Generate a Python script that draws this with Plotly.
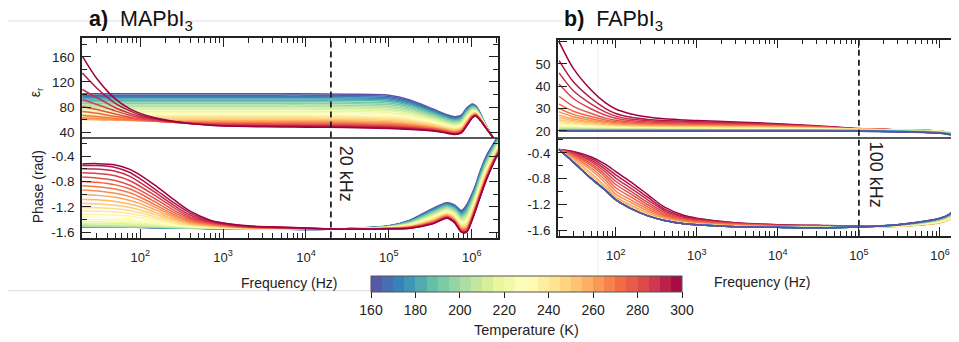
import math
import plotly.graph_objects as go
from plotly.colors import sample_colorscale, make_colorscale, diverging

# ---------------- data ----------------
temps = [160, 165, 170, 175, 180, 185, 190, 195, 200, 205, 210, 215, 220, 225, 230,
         235, 240, 245, 250, 255, 260, 265, 270, 275, 280, 285, 290, 295, 300]

# panel a (MAPbI3) frequency grid
freq_a = [20, 30, 50, 75, 100, 150, 250, 400, 700, 1e3, 2e3, 5e3, 1e4, 3e4, 1e5, 1.8e5,
          3.4e5, 5e5, 6.2e5, 7.5e5, 8.7e5, 1.02e6, 1.12e6, 1.25e6, 1.5e6, 1.9e6, 2.1e6]

eps_a = [
    [101, 101, 101, 101, 101, 101, 101, 101, 101, 101, 101, 101, 101, 100.5, 99, 91.5, 77, 68, 64.5, 67, 78.5, 85, 82, 72, 50, 27, 12],
    [99, 99, 99, 99, 99, 99, 99, 99, 99, 99, 99, 99, 99, 98.5, 97, 89.7, 75.7, 66.9, 63.4, 65.9, 77.4, 84.2, 81.4, 71.5, 49.8, 27, 12],
    [97, 97, 97, 97, 97, 97, 97, 97, 97, 97, 97, 97, 97, 96.5, 95, 88.0, 74.4, 65.8, 62.4, 64.9, 76.4, 83.4, 80.8, 71.1, 49.7, 27, 12],
    [95, 95, 95, 95, 95, 95, 95, 95, 95, 95, 95, 95, 95, 94.5, 93, 86.2, 73.0, 64.7, 61.3, 63.8, 75.3, 82.5, 80.2, 70.6, 49.5, 27, 12],
    [93, 93, 93, 93, 93, 93, 93, 93, 93, 93, 93, 93, 93, 92.5, 91, 84.4, 71.7, 63.5, 60.3, 62.8, 74.2, 81.7, 79.6, 70.2, 49.4, 27, 12],
    [91, 91, 91, 91, 91, 91, 91, 91, 91, 91, 91, 91, 91, 90.5, 89, 82.6, 70.4, 62.4, 59.2, 61.7, 73.1, 80.8, 79.0, 69.7, 49.2, 27, 12],
    [88.5, 88.5, 88.5, 88.5, 88.5, 88.5, 88.5, 88.5, 88.5, 88.5, 88.5, 88.5, 88.5, 88, 86.5, 80.4, 68.7, 61.0, 57.9, 60.4, 71.8, 79.8, 78.2, 69.2, 49.1, 27, 12],
    [86, 86, 86, 86, 86, 86, 86, 86, 86, 86, 86, 86, 86, 85.5, 84, 78.2, 67.1, 59.7, 56.6, 59.1, 70.4, 78.8, 77.5, 68.6, 48.9, 27, 12],
    [83.5, 83.5, 83.5, 83.5, 83.5, 83.5, 83.5, 83.5, 83.5, 83.5, 83.5, 83.5, 83.5, 83, 81.5, 76.0, 65.5, 58.3, 55.3, 57.8, 69.1, 77.7, 76.7, 68.0, 48.7, 27, 12],
    [81, 81, 81, 81, 81, 81, 81, 81, 81, 81, 81, 81, 81, 80.5, 79, 73.8, 63.8, 56.9, 53.9, 56.4, 67.8, 76.7, 76.0, 67.5, 48.5, 27, 12],
    [78.5, 78.5, 78.5, 78.5, 78.5, 78.5, 78.5, 78.5, 78.5, 78.5, 78.5, 78.5, 78.5, 78, 76.5, 71.5, 62.1, 55.5, 52.6, 55.1, 66.4, 75.7, 75.2, 66.9, 48.3, 27, 12],
    [76, 76, 76, 76, 76, 76, 76, 76, 76, 76, 76, 76, 76, 75.5, 74, 69.3, 60.5, 54.1, 51.3, 53.8, 65.0, 74.6, 74.4, 66.3, 48.1, 27, 12],
    [73.5, 73.5, 73.5, 73.5, 73.5, 73.5, 73.5, 73.5, 73.5, 73.5, 73.5, 73.5, 73.5, 73, 71.5, 67.1, 58.8, 52.7, 50.0, 52.5, 63.7, 73.6, 73.7, 65.8, 47.9, 27, 12],
    [71, 71, 71, 71, 71, 71, 71, 71, 71, 71, 71, 71, 71, 70.5, 69, 64.9, 57.2, 51.3, 48.7, 51.2, 62.4, 72.5, 72.9, 65.2, 47.7, 27, 12],
    [69, 69, 69, 69, 69, 69, 69, 69, 69, 69, 69, 69, 69, 68.5, 67, 63.1, 55.9, 50.2, 47.6, 50.1, 61.3, 71.7, 72.3, 64.8, 47.6, 27, 12],
    [67, 67, 67, 67, 67, 67, 67, 67, 67, 67, 67, 67, 67, 66.5, 65, 61.3, 54.5, 49.1, 46.5, 49.0, 60.2, 70.9, 71.7, 64.3, 47.4, 27, 12],
    [65, 65, 65, 65, 65, 65, 65, 65, 65, 65, 65, 65, 65, 64.5, 63, 59.6, 53.2, 48.0, 45.5, 48.0, 59.1, 70.1, 71.1, 63.9, 47.3, 27, 12],
    [63, 63, 63, 63, 63, 63, 63, 63, 63, 63, 63, 63, 63, 62.5, 61, 57.8, 51.9, 46.8, 44.4, 46.9, 58.1, 69.2, 70.5, 63.4, 47.1, 27, 12],
    [61.3, 61.2, 61.1, 61, 61, 61, 61, 61, 61, 61, 61, 61, 61, 60.5, 59, 56.0, 50.6, 45.7, 43.4, 45.9, 57.0, 68.4, 69.9, 62.9, 47.0, 27, 12],
    [60.2, 59.8, 59.4, 59.2, 59.1, 59, 59, 59, 59, 59, 59, 59, 59, 58.5, 57, 54.3, 49.3, 44.6, 42.3, 44.8, 55.9, 67.6, 69.3, 62.5, 46.8, 27, 12],
    [61, 60.3, 59.4, 58.8, 58.4, 58, 57.8, 57.6, 57.5, 57.5, 57.5, 57.5, 57.5, 57, 55.5, 52.9, 48.3, 43.8, 41.5, 44.0, 55.1, 66.9, 68.9, 62.1, 46.7, 27, 12],
    [63, 62, 60, 59, 58.3, 57.5, 56.8, 56.4, 56.2, 56.1, 56, 56, 56, 55.5, 54, 51.6, 47.3, 43.0, 40.7, 43.2, 54.3, 66.3, 68.4, 61.8, 46.6, 27, 12],
    [67, 65, 62, 60, 59, 57.5, 56.3, 55.6, 55, 54.8, 54.6, 54.5, 54.5, 54, 52.5, 50.3, 46.3, 42.1, 39.9, 42.4, 53.5, 65.7, 68.0, 61.5, 46.5, 27, 12],
    [73, 70, 65, 62, 60, 58, 56, 55, 54, 53.8, 53.4, 53.2, 53, 52.5, 51, 48.9, 45.3, 41.3, 39.1, 41.6, 52.7, 65.1, 67.5, 61.1, 46.4, 27, 12],
    [81, 76, 69, 64, 61, 58.5, 56, 54.5, 53.3, 53, 52.5, 52.2, 52, 51.5, 50, 48.0, 44.6, 40.7, 38.6, 41.1, 52.1, 64.6, 67.2, 60.9, 46.3, 27, 12],
    [92, 84, 74, 67, 63, 59.5, 56, 54, 52.5, 52, 51.5, 51.2, 51, 50.5, 49, 47.2, 44.0, 40.2, 38.1, 40.6, 51.6, 64.3, 66.9, 60.7, 46.2, 27, 12],
    [108, 95, 79, 70, 65, 60.5, 56.5, 54, 52, 51, 50.5, 50.3, 50, 49.5, 48, 46.3, 43.3, 39.6, 37.6, 40.1, 51.1, 63.8, 66.6, 60.5, 46.2, 27, 12],
    [134, 110, 86, 74, 67.5, 62, 57, 54, 51.5, 50.5, 50, 49.5, 49, 48.5, 47, 45.4, 42.7, 39.1, 37.0, 39.5, 50.5, 63.4, 66.3, 60.2, 46.1, 27, 12],
    [161, 125, 93, 77, 70, 63, 57.5, 54, 51, 50, 49, 48.5, 48, 47.5, 46, 44.5, 42.0, 38.5, 36.5, 39.0, 50.0, 63.0, 66.0, 60.0, 46.0, 27, 12],
]

phase_a = [
    [-1.518, -1.519, -1.521, -1.523, -1.525, -1.529, -1.534, -1.539, -1.543, -1.546, -1.55, -1.554, -1.557, -1.545, -1.50, -1.41, -1.225, -1.135, -1.17, -1.26, -1.17, -0.98, -0.85, -0.66, -0.40, -0.17, -0.07],
    [-1.517, -1.518, -1.52, -1.522, -1.524, -1.528, -1.533, -1.538, -1.542, -1.545, -1.55, -1.554, -1.557, -1.545, -1.502, -1.415, -1.234, -1.144, -1.181, -1.273, -1.186, -0.996, -0.865, -0.676, -0.414, -0.181, -0.081],
    [-1.516, -1.517, -1.519, -1.521, -1.523, -1.527, -1.533, -1.538, -1.542, -1.545, -1.549, -1.553, -1.557, -1.546, -1.504, -1.42, -1.243, -1.153, -1.191, -1.286, -1.202, -1.012, -0.88, -0.691, -0.429, -0.193, -0.092],
    [-1.515, -1.516, -1.518, -1.52, -1.522, -1.526, -1.532, -1.537, -1.541, -1.544, -1.549, -1.553, -1.556, -1.546, -1.505, -1.425, -1.253, -1.163, -1.202, -1.298, -1.219, -1.028, -0.895, -0.706, -0.443, -0.204, -0.103],
    [-1.514, -1.515, -1.517, -1.519, -1.521, -1.525, -1.531, -1.536, -1.541, -1.544, -1.548, -1.553, -1.556, -1.546, -1.507, -1.43, -1.262, -1.172, -1.212, -1.311, -1.235, -1.043, -0.91, -0.722, -0.457, -0.215, -0.114],
    [-1.512, -1.513, -1.515, -1.517, -1.519, -1.524, -1.53, -1.535, -1.54, -1.543, -1.548, -1.552, -1.556, -1.547, -1.509, -1.435, -1.271, -1.181, -1.223, -1.324, -1.251, -1.059, -0.926, -0.738, -0.472, -0.227, -0.125],
    [-1.51, -1.511, -1.513, -1.515, -1.517, -1.522, -1.528, -1.534, -1.539, -1.542, -1.547, -1.552, -1.555, -1.547, -1.511, -1.441, -1.283, -1.193, -1.236, -1.34, -1.272, -1.079, -0.944, -0.757, -0.49, -0.241, -0.138],
    [-1.508, -1.509, -1.511, -1.513, -1.515, -1.52, -1.527, -1.533, -1.538, -1.541, -1.546, -1.551, -1.555, -1.547, -1.514, -1.447, -1.294, -1.204, -1.249, -1.356, -1.292, -1.099, -0.963, -0.776, -0.508, -0.255, -0.152],
    [-1.505, -1.506, -1.508, -1.51, -1.513, -1.518, -1.525, -1.531, -1.536, -1.54, -1.545, -1.55, -1.554, -1.548, -1.516, -1.453, -1.306, -1.216, -1.262, -1.372, -1.312, -1.119, -0.982, -0.795, -0.525, -0.269, -0.166],
    [-1.50, -1.50, -1.502, -1.505, -1.508, -1.514, -1.522, -1.528, -1.534, -1.538, -1.544, -1.55, -1.553, -1.548, -1.518, -1.459, -1.317, -1.227, -1.276, -1.388, -1.332, -1.138, -1.001, -0.815, -0.543, -0.283, -0.179],
    [-1.485, -1.486, -1.489, -1.493, -1.498, -1.506, -1.516, -1.525, -1.532, -1.537, -1.543, -1.549, -1.553, -1.548, -1.52, -1.465, -1.329, -1.239, -1.289, -1.405, -1.353, -1.159, -1.02, -0.834, -0.562, -0.298, -0.193],
    [-1.46, -1.462, -1.466, -1.472, -1.48, -1.492, -1.508, -1.52, -1.53, -1.535, -1.542, -1.548, -1.552, -1.549, -1.523, -1.471, -1.341, -1.251, -1.302, -1.421, -1.373, -1.178, -1.039, -0.854, -0.579, -0.312, -0.207],
    [-1.435, -1.437, -1.442, -1.45, -1.46, -1.478, -1.50, -1.515, -1.527, -1.533, -1.541, -1.547, -1.552, -1.549, -1.525, -1.478, -1.352, -1.262, -1.315, -1.437, -1.393, -1.198, -1.058, -0.873, -0.597, -0.326, -0.221],
    [-1.40, -1.403, -1.41, -1.42, -1.435, -1.46, -1.49, -1.51, -1.524, -1.531, -1.54, -1.546, -1.551, -1.55, -1.527, -1.484, -1.364, -1.274, -1.329, -1.452, -1.413, -1.218, -1.076, -0.892, -0.615, -0.34, -0.234],
    [-1.36, -1.365, -1.372, -1.39, -1.41, -1.44, -1.48, -1.505, -1.52, -1.529, -1.539, -1.545, -1.55, -1.55, -1.529, -1.489, -1.373, -1.283, -1.339, -1.465, -1.43, -1.234, -1.092, -0.908, -0.63, -0.351, -0.245],
    [-1.315, -1.32, -1.33, -1.35, -1.375, -1.415, -1.465, -1.498, -1.517, -1.526, -1.538, -1.544, -1.55, -1.55, -1.531, -1.494, -1.382, -1.292, -1.35, -1.478, -1.446, -1.25, -1.107, -0.923, -0.644, -0.363, -0.256],
    [-1.265, -1.27, -1.28, -1.305, -1.335, -1.385, -1.45, -1.49, -1.513, -1.523, -1.536, -1.543, -1.549, -1.55, -1.533, -1.498, -1.391, -1.301, -1.36, -1.491, -1.462, -1.265, -1.122, -0.938, -0.658, -0.374, -0.267],
    [-1.21, -1.215, -1.23, -1.26, -1.295, -1.355, -1.43, -1.482, -1.508, -1.52, -1.534, -1.542, -1.548, -1.551, -1.534, -1.503, -1.401, -1.311, -1.371, -1.504, -1.478, -1.281, -1.137, -0.954, -0.673, -0.385, -0.278],
    [-1.145, -1.155, -1.175, -1.21, -1.25, -1.32, -1.41, -1.472, -1.503, -1.516, -1.532, -1.541, -1.547, -1.551, -1.536, -1.508, -1.41, -1.32, -1.381, -1.517, -1.495, -1.297, -1.152, -0.97, -0.687, -0.397, -0.289],
    [-1.08, -1.09, -1.115, -1.155, -1.20, -1.285, -1.39, -1.462, -1.497, -1.512, -1.53, -1.54, -1.546, -1.551, -1.538, -1.513, -1.419, -1.329, -1.392, -1.529, -1.511, -1.313, -1.167, -0.985, -0.701, -0.408, -0.30],
    [-1.005, -1.02, -1.05, -1.10, -1.15, -1.245, -1.365, -1.45, -1.49, -1.507, -1.528, -1.538, -1.545, -1.552, -1.539, -1.517, -1.426, -1.336, -1.40, -1.539, -1.523, -1.325, -1.178, -0.997, -0.712, -0.416, -0.308],
    [-0.935, -0.95, -0.985, -1.04, -1.10, -1.205, -1.34, -1.435, -1.483, -1.502, -1.526, -1.537, -1.544, -1.552, -1.541, -1.52, -1.433, -1.343, -1.408, -1.549, -1.535, -1.337, -1.19, -1.008, -0.723, -0.425, -0.316],
    [-0.87, -0.885, -0.92, -0.98, -1.05, -1.165, -1.315, -1.42, -1.475, -1.497, -1.523, -1.536, -1.543, -1.552, -1.542, -1.524, -1.44, -1.35, -1.416, -1.558, -1.547, -1.348, -1.201, -1.02, -0.733, -0.433, -0.324],
    [-0.80, -0.815, -0.855, -0.92, -0.995, -1.12, -1.285, -1.40, -1.465, -1.49, -1.52, -1.534, -1.542, -1.552, -1.544, -1.528, -1.447, -1.357, -1.424, -1.568, -1.56, -1.361, -1.212, -1.032, -0.744, -0.442, -0.333],
    [-0.73, -0.745, -0.785, -0.86, -0.94, -1.07, -1.25, -1.38, -1.455, -1.485, -1.518, -1.532, -1.541, -1.552, -1.544, -1.53, -1.452, -1.362, -1.429, -1.575, -1.568, -1.369, -1.22, -1.039, -0.752, -0.448, -0.338],
    [-0.665, -0.675, -0.71, -0.79, -0.88, -1.02, -1.21, -1.36, -1.445, -1.48, -1.515, -1.53, -1.54, -1.553, -1.545, -1.533, -1.456, -1.366, -1.434, -1.581, -1.576, -1.376, -1.227, -1.047, -0.758, -0.453, -0.344],
    [-0.60, -0.605, -0.64, -0.72, -0.82, -0.97, -1.17, -1.33, -1.435, -1.47, -1.51, -1.528, -1.539, -1.553, -1.546, -1.535, -1.461, -1.371, -1.439, -1.587, -1.584, -1.384, -1.235, -1.054, -0.766, -0.459, -0.349],
    [-0.55, -0.55, -0.58, -0.66, -0.76, -0.92, -1.13, -1.30, -1.42, -1.46, -1.505, -1.525, -1.537, -1.553, -1.547, -1.538, -1.465, -1.375, -1.445, -1.594, -1.592, -1.392, -1.242, -1.062, -0.773, -0.464, -0.355],
    [-0.525, -0.52, -0.54, -0.61, -0.70, -0.86, -1.08, -1.27, -1.41, -1.455, -1.50, -1.52, -1.535, -1.553, -1.548, -1.54, -1.47, -1.38, -1.45, -1.60, -1.60, -1.40, -1.25, -1.07, -0.78, -0.47, -0.36],
]

# panel b (FAPbI3) frequency grid
freq_b = [20, 30, 50, 75, 100, 150, 250, 400, 700, 1e3, 3e3, 1e4, 3e4, 1e5, 3e5, 7e5, 1e6, 1.3e6, 1.9e6]

eps_b = [
    [19.9, 19.9, 19.9, 19.9, 19.9, 19.9, 19.9, 19.9, 19.9, 19.9, 19.9, 19.9, 19.8, 19.8, 19.5, 19.2, 18.9, 18.4, 17.6],
    [19.9, 19.9, 19.9, 19.9, 19.9, 19.9, 19.9, 19.9, 19.9, 19.9, 19.9, 19.9, 19.9, 19.8, 19.6, 19.3, 18.9, 18.4, 17.6],
    [20.0, 20.0, 20.0, 20.0, 20.0, 20.0, 20.0, 20.0, 20.0, 20.0, 20.0, 20.0, 19.9, 19.9, 19.6, 19.3, 19.0, 18.5, 17.7],
    [20.0, 20.0, 20.0, 20.0, 20.0, 20.0, 20.0, 20.0, 20.0, 20.0, 20.0, 20.0, 20.0, 19.9, 19.7, 19.4, 19.0, 18.5, 17.7],
    [20.1, 20.1, 20.1, 20.1, 20.1, 20.1, 20.1, 20.1, 20.1, 20.1, 20.1, 20.1, 20.1, 20.0, 19.7, 19.4, 19.1, 18.6, 17.8],
    [20.2, 20.2, 20.2, 20.2, 20.2, 20.2, 20.2, 20.2, 20.2, 20.2, 20.2, 20.2, 20.1, 20.0, 19.8, 19.5, 19.1, 18.6, 17.9],
    [20.3, 20.3, 20.3, 20.3, 20.3, 20.3, 20.3, 20.3, 20.3, 20.3, 20.3, 20.3, 20.2, 20.1, 19.8, 19.5, 19.2, 18.7, 18.0],
    [20.4, 20.4, 20.4, 20.4, 20.4, 20.4, 20.4, 20.3, 20.3, 20.3, 20.3, 20.3, 20.3, 20.1, 19.9, 19.6, 19.3, 18.8, 18.1],
    [20.6, 20.6, 20.6, 20.5, 20.5, 20.5, 20.5, 20.4, 20.4, 20.4, 20.4, 20.4, 20.3, 20.2, 19.9, 19.6, 19.3, 18.9, 18.2],
    [20.8, 20.8, 20.7, 20.7, 20.6, 20.6, 20.6, 20.5, 20.5, 20.5, 20.5, 20.4, 20.4, 20.2, 20.0, 19.7, 19.4, 19.0, 18.3],
    [21.1, 21.0, 20.9, 20.8, 20.8, 20.7, 20.7, 20.6, 20.6, 20.6, 20.5, 20.5, 20.4, 20.3, 20.0, 19.8, 19.5, 19.1, 18.4],
    [21.4, 21.3, 21.1, 21.0, 20.9, 20.8, 20.8, 20.7, 20.7, 20.7, 20.6, 20.5, 20.5, 20.3, 20.1, 19.8, 19.6, 19.2, 18.5],
    [21.7, 21.5, 21.3, 21.1, 21.0, 20.9, 20.9, 20.8, 20.8, 20.8, 20.7, 20.6, 20.5, 20.4, 20.1, 19.9, 19.6, 19.3, 18.6],
    [22.0, 21.8, 21.5, 21.3, 21.2, 21.1, 21.0, 20.9, 20.9, 20.9, 20.8, 20.7, 20.6, 20.4, 20.2, 19.9, 19.7, 19.3, 18.7],
    [22.5, 22.1, 21.8, 21.5, 21.4, 21.2, 21.1, 21.0, 21.0, 21.0, 20.9, 20.8, 20.7, 20.5, 20.2, 20.0, 19.7, 19.4, 18.7],
    [23.0, 22.5, 22.0, 21.7, 21.6, 21.4, 21.3, 21.2, 21.1, 21.1, 21.0, 20.9, 20.8, 20.5, 20.3, 20.0, 19.7, 19.4, 18.7],
    [23.5, 22.9, 22.3, 22.0, 21.8, 21.6, 21.4, 21.3, 21.3, 21.3, 21.2, 21.1, 20.9, 20.6, 20.3, 20.0, 19.8, 19.4, 18.7],
    [24.2, 23.4, 22.7, 22.2, 22.0, 21.8, 21.6, 21.5, 21.5, 21.4, 21.3, 21.2, 21.0, 20.6, 20.3, 20.0, 19.8, 19.4, 18.6],
    [25.0, 24.0, 23.1, 22.5, 22.2, 22.0, 21.8, 21.7, 21.6, 21.6, 21.5, 21.4, 21.1, 20.6, 20.4, 20.1, 19.8, 19.4, 18.6],
    [26.0, 24.6, 23.5, 22.8, 22.5, 22.2, 22.0, 21.9, 21.8, 21.8, 21.6, 21.5, 21.2, 20.7, 20.4, 20.1, 19.8, 19.4, 18.6],
    [27.0, 25.3, 24.0, 23.2, 22.8, 22.5, 22.2, 22.1, 22.0, 22.0, 21.8, 21.6, 21.3, 20.7, 20.4, 20.1, 19.8, 19.4, 18.6],
    [28.5, 26.3, 24.6, 23.7, 23.2, 22.8, 22.5, 22.3, 22.2, 22.2, 22.0, 21.8, 21.4, 20.7, 20.4, 20.1, 19.8, 19.3, 18.5],
    [30.0, 27.4, 25.4, 24.2, 23.6, 23.1, 22.8, 22.6, 22.5, 22.4, 22.2, 21.9, 21.5, 20.8, 20.4, 20.1, 19.8, 19.3, 18.5],
    [32.0, 28.8, 26.4, 24.9, 24.1, 23.5, 23.1, 22.9, 22.8, 22.7, 22.4, 22.1, 21.6, 20.8, 20.4, 20.1, 19.8, 19.3, 18.5],
    [35.5, 31.0, 27.8, 25.7, 24.7, 24.0, 23.5, 23.3, 23.1, 23.0, 22.7, 22.3, 21.8, 20.8, 20.5, 20.1, 19.8, 19.3, 18.4],
    [41.0, 34.5, 29.8, 27.0, 25.6, 24.6, 24.0, 23.7, 23.5, 23.4, 23.0, 22.5, 21.9, 20.9, 20.5, 20.1, 19.8, 19.3, 18.4],
    [46.0, 38.0, 32.0, 28.4, 26.6, 25.3, 24.5, 24.1, 23.9, 23.8, 23.3, 22.7, 22.0, 20.9, 20.5, 20.1, 19.8, 19.3, 18.4],
    [51.5, 42.0, 34.5, 30.0, 27.8, 26.2, 25.1, 24.6, 24.3, 24.1, 23.6, 22.9, 22.1, 20.9, 20.5, 20.1, 19.8, 19.3, 18.4],
    [60.0, 48.0, 38.2, 32.5, 29.8, 27.7, 26.2, 25.4, 24.9, 24.6, 24.0, 23.2, 22.3, 21.0, 20.5, 20.1, 19.8, 19.3, 18.4],
]

phase_b = [
    [-0.35, -0.545, -0.80, -0.98, -1.125, -1.255, -1.375, -1.445, -1.495, -1.513, -1.542, -1.552, -1.557, -1.545, -1.51, -1.45, -1.41, -1.35, -1.15],
    [-0.35, -0.545, -0.80, -0.98, -1.125, -1.255, -1.375, -1.445, -1.495, -1.513, -1.542, -1.552, -1.557, -1.545, -1.51, -1.451, -1.411, -1.35, -1.155],
    [-0.35, -0.545, -0.80, -0.98, -1.125, -1.255, -1.375, -1.445, -1.495, -1.513, -1.542, -1.552, -1.557, -1.545, -1.511, -1.452, -1.412, -1.35, -1.16],
    [-0.35, -0.545, -0.80, -0.98, -1.125, -1.255, -1.375, -1.445, -1.495, -1.513, -1.542, -1.552, -1.557, -1.545, -1.511, -1.453, -1.413, -1.352, -1.165],
    [-0.35, -0.545, -0.80, -0.98, -1.125, -1.255, -1.375, -1.445, -1.495, -1.513, -1.542, -1.552, -1.557, -1.545, -1.512, -1.455, -1.415, -1.355, -1.17],
    [-0.35, -0.545, -0.80, -0.98, -1.125, -1.255, -1.375, -1.445, -1.495, -1.513, -1.542, -1.552, -1.557, -1.545, -1.513, -1.457, -1.418, -1.36, -1.18],
    [-0.35, -0.545, -0.80, -0.98, -1.125, -1.255, -1.375, -1.445, -1.495, -1.513, -1.542, -1.552, -1.557, -1.545, -1.514, -1.46, -1.422, -1.365, -1.19],
    [-0.35, -0.545, -0.80, -0.98, -1.125, -1.255, -1.375, -1.445, -1.495, -1.513, -1.542, -1.552, -1.557, -1.546, -1.515, -1.462, -1.425, -1.37, -1.20],
    [-0.35, -0.543, -0.795, -0.979, -1.124, -1.254, -1.374, -1.445, -1.495, -1.512, -1.541, -1.552, -1.556, -1.546, -1.516, -1.465, -1.43, -1.375, -1.21],
    [-0.35, -0.543, -0.795, -0.979, -1.124, -1.254, -1.374, -1.445, -1.495, -1.512, -1.541, -1.552, -1.556, -1.546, -1.518, -1.47, -1.435, -1.38, -1.23],
    [-0.35, -0.543, -0.795, -0.979, -1.124, -1.254, -1.374, -1.445, -1.495, -1.512, -1.541, -1.552, -1.556, -1.546, -1.519, -1.474, -1.44, -1.385, -1.24],
    [-0.35, -0.543, -0.795, -0.979, -1.124, -1.254, -1.374, -1.445, -1.495, -1.512, -1.541, -1.552, -1.556, -1.547, -1.52, -1.478, -1.445, -1.39, -1.25],
    [-0.35, -0.542, -0.794, -0.978, -1.123, -1.253, -1.373, -1.444, -1.494, -1.512, -1.541, -1.552, -1.556, -1.547, -1.522, -1.482, -1.45, -1.40, -1.26],
    [-0.35, -0.541, -0.793, -0.978, -1.122, -1.252, -1.372, -1.444, -1.494, -1.512, -1.541, -1.551, -1.556, -1.547, -1.524, -1.486, -1.455, -1.405, -1.27],
    [-0.35, -0.541, -0.792, -0.977, -1.122, -1.252, -1.372, -1.443, -1.493, -1.511, -1.541, -1.551, -1.556, -1.548, -1.526, -1.49, -1.46, -1.41, -1.28],
    [-0.35, -0.54, -0.79, -0.976, -1.121, -1.251, -1.371, -1.443, -1.493, -1.511, -1.54, -1.551, -1.555, -1.548, -1.527, -1.492, -1.465, -1.42, -1.29],
    [-0.35, -0.54, -0.79, -0.975, -1.12, -1.25, -1.37, -1.442, -1.492, -1.51, -1.54, -1.55, -1.555, -1.548, -1.528, -1.495, -1.47, -1.43, -1.30],
    [-0.35, -0.535, -0.785, -0.97, -1.115, -1.245, -1.365, -1.44, -1.49, -1.508, -1.538, -1.549, -1.554, -1.547, -1.53, -1.497, -1.47, -1.425, -1.30],
    [-0.35, -0.53, -0.775, -0.965, -1.11, -1.235, -1.36, -1.435, -1.486, -1.505, -1.535, -1.547, -1.552, -1.546, -1.532, -1.50, -1.473, -1.43, -1.30],
    [-0.35, -0.52, -0.76, -0.95, -1.10, -1.225, -1.35, -1.43, -1.482, -1.50, -1.53, -1.545, -1.55, -1.546, -1.534, -1.502, -1.477, -1.433, -1.30],
    [-0.35, -0.50, -0.72, -0.92, -1.08, -1.20, -1.33, -1.42, -1.475, -1.495, -1.527, -1.542, -1.548, -1.545, -1.535, -1.505, -1.48, -1.435, -1.29],
    [-0.35, -0.48, -0.67, -0.87, -1.04, -1.16, -1.30, -1.405, -1.465, -1.485, -1.52, -1.538, -1.546, -1.544, -1.535, -1.505, -1.478, -1.43, -1.28],
    [-0.35, -0.46, -0.635, -0.825, -0.99, -1.12, -1.27, -1.385, -1.453, -1.475, -1.513, -1.534, -1.543, -1.542, -1.534, -1.503, -1.475, -1.425, -1.27],
    [-0.35, -0.445, -0.60, -0.78, -0.94, -1.075, -1.24, -1.365, -1.44, -1.465, -1.507, -1.53, -1.54, -1.54, -1.532, -1.50, -1.47, -1.42, -1.26],
    [-0.35, -0.43, -0.57, -0.74, -0.89, -1.03, -1.205, -1.345, -1.43, -1.455, -1.50, -1.527, -1.536, -1.538, -1.53, -1.497, -1.465, -1.415, -1.25],
    [-0.35, -0.415, -0.54, -0.70, -0.84, -0.985, -1.17, -1.32, -1.415, -1.445, -1.495, -1.523, -1.533, -1.536, -1.527, -1.493, -1.46, -1.41, -1.24],
    [-0.35, -0.40, -0.515, -0.66, -0.79, -0.94, -1.13, -1.295, -1.40, -1.435, -1.49, -1.52, -1.53, -1.534, -1.525, -1.49, -1.455, -1.405, -1.23],
    [-0.35, -0.39, -0.49, -0.62, -0.74, -0.89, -1.09, -1.27, -1.385, -1.42, -1.485, -1.515, -1.525, -1.532, -1.522, -1.485, -1.45, -1.40, -1.22],
    [-0.35, -0.38, -0.465, -0.58, -0.69, -0.84, -1.05, -1.24, -1.37, -1.41, -1.48, -1.51, -1.52, -1.53, -1.52, -1.48, -1.44, -1.39, -1.21],
]

x_major = [1e2, 1e3, 1e4, 1e5, 1e6]
x_major_text = ['10<sup>2</sup>', '10<sup>3</sup>', '10<sup>4</sup>', '10<sup>5</sup>', '10<sup>6</sup>']
x_minor = [m * 10 ** d for d in range(1, 7) for m in range(2, 10)]

eps_a_ticks = [40, 80, 120, 160]
eps_a_minor = [60, 100, 140, 180]
eps_b_ticks = [20, 30, 40, 50, 60]
eps_b_text = ['20', '30', '40', '50', ' ']
phase_ticks = [-1.6, -1.2, -0.8, -0.4]
phase_text = ['-1.6', '-1.2', '-0.8', '-0.4']
phase_minor = [-1.4, -1.0, -0.6, -0.2]
cbar_ticks = [160, 180, 200, 220, 240, 260, 280, 300]
marker_freqs = [2e4, 1e5]   # 20 kHz (a) and 100 kHz (b)

# ---------------- styling ----------------
W, H = 959, 342
OX, OY = 8, 8          # page body margin offset
FONT = 'Liberation Sans, Arial, sans-serif'
INK = '#222222'


def dx(p):
    return (p - OX) / W


def dy(p):
    return 1 - (p - OY) / H


spec_r = list(reversed(diverging.Spectral))
scale = make_colorscale(spec_r)
line_colors = sample_colorscale(scale, [(t - 160) / 140 for t in temps])
nb = 28
band_cols = sample_colorscale(scale, [(k + 0.5) / nb for k in range(nb)])
cb_scale = []
for k, c in enumerate(band_cols):
    cb_scale.append([k / nb, c])
    cb_scale.append([(k + 1) / nb, c])

fig = go.Figure()
LW = 1.5
for i, t in enumerate(temps):
    fig.add_trace(go.Scatter(x=freq_a, y=eps_a[i], xaxis='x', yaxis='y', mode='lines',
                             line=dict(color=line_colors[i], width=LW, shape='spline', smoothing=0.8),
                             showlegend=False, hoverinfo='skip'))
for i, t in enumerate(temps):
    fig.add_trace(go.Scatter(x=freq_a, y=phase_a[i], xaxis='x2', yaxis='y2', mode='lines',
                             line=dict(color=line_colors[i], width=LW, shape='spline', smoothing=0.8),
                             showlegend=False, hoverinfo='skip'))
for i in reversed(range(len(temps))):
    fig.add_trace(go.Scatter(x=freq_b, y=eps_b[i], xaxis='x3', yaxis='y3', mode='lines',
                             line=dict(color=line_colors[i], width=LW, shape='spline', smoothing=0.8),
                             showlegend=False, hoverinfo='skip'))
for i in reversed(range(len(temps))):
    fig.add_trace(go.Scatter(x=freq_b, y=phase_b[i], xaxis='x4', yaxis='y4', mode='lines',
                             line=dict(color=line_colors[i], width=LW, shape='spline', smoothing=0.8),
                             showlegend=False, hoverinfo='skip'))

# colour bar host (invisible marker)
fig.add_trace(go.Scatter(
    x=[freq_a[0]], y=[eps_a[-1][0]], xaxis='x', yaxis='y', mode='markers',
    marker=dict(size=1, opacity=0, color=[temps[0]], cmin=temps[0], cmax=temps[-1],
                colorscale=cb_scale, showscale=True,
                colorbar=dict(orientation='h', x=dx(371), xanchor='left', y=dy(276), yanchor='top',
                              len=311, lenmode='pixels', thickness=16, thicknessmode='pixels',
                              xpad=0, ypad=0, outlinewidth=1, outlinecolor='#555',
                              ticks='outside', ticklen=6, tickwidth=1.3, tickcolor=INK,
                              tickvals=cbar_ticks, tickfont=dict(size=14, color=INK, family=FONT))),
    showlegend=False, hoverinfo='skip'))


def xaxis(domain, rng, anchor, side, labels):
    return dict(type='log', domain=domain, range=rng, anchor=anchor, side=side,
                showgrid=False, zeroline=False, showline=True, linecolor=INK, linewidth=1.5, mirror=False,
                ticks='inside', ticklen=9, tickwidth=1.3, tickcolor=INK,
                tickvals=x_major, ticktext=x_major_text, showticklabels=labels,
                tickfont=dict(size=13, color=INK, family=FONT), ticklabelstandoff=7,
                minor=dict(ticks='inside', ticklen=5, tickwidth=1.1, tickcolor=INK,
                           tickvals=x_minor, showgrid=False))


def yaxis(domain, rng, anchor, tv, tt, minor):
    d = dict(domain=domain, range=rng, anchor=anchor, showgrid=False, zeroline=False,
             showline=True, linecolor=INK, linewidth=1.5, mirror='ticks',
             ticks='inside', ticklen=9, tickwidth=1.3, tickcolor=INK,
             tickvals=tv, ticktext=tt, tickfont=dict(size=13.5, color=INK, family=FONT),
             ticklabelstandoff=3)
    if minor:
        d['minor'] = dict(ticks='inside', ticklen=5, tickwidth=1.1, tickcolor=INK,
                          tickvals=minor, showgrid=False)
    return d


xa = [dx(82), dx(497.7)]
xb = [dx(558), dx(963)]
ra = [1.297, 6.314]
rb = [1.288, 6.284]
MID = 135.5


def paper_x(dom, rng, f):
    """position of frequency f (Hz) on a log axis, in paper units"""
    return dom[0] + (math.log10(f) - rng[0]) / (rng[1] - rng[0]) * (dom[1] - dom[0])


fig.update_layout(
    width=W, height=H, margin=dict(l=0, r=0, t=0, b=0),
    paper_bgcolor='white', plot_bgcolor='rgba(0,0,0,0)',
    font=dict(family=FONT, color=INK, size=13),
    xaxis=xaxis(xa, ra, 'y', 'top', False),
    xaxis2=xaxis(xa, ra, 'y2', 'bottom', True),
    xaxis3=xaxis(xb, rb, 'y3', 'top', False),
    xaxis4=xaxis(xb, rb, 'y4', 'bottom', True),
    yaxis=yaxis([dy(MID), dy(33.3)], [31, 190.2], 'x', eps_a_ticks, [str(v) for v in eps_a_ticks], eps_a_minor),
    yaxis2=yaxis([dy(237.3), dy(MID)], [-1.686, -0.114], 'x2', phase_ticks, phase_text, phase_minor),
    yaxis3=yaxis([dy(MID), dy(35.3)], [16.84, 60.85], 'x3', eps_b_ticks, eps_b_text, None),
    yaxis4=yaxis([dy(235.3), dy(MID)], [-1.68, -0.17], 'x4', phase_ticks, phase_text, phase_minor),
)

xa_m = paper_x(xa, ra, marker_freqs[0])
xb_m = paper_x(xb, rb, marker_freqs[1])
shapes = [
    dict(type='line', xref='paper', yref='paper', x0=dx(3), x1=dx(563), y0=dy(16.2), y1=dy(16.2),
         line=dict(color='#dddddd', width=1), layer='below'),
    dict(type='line', xref='paper', yref='paper', x0=dx(3), x1=dx(371), y0=dy(291.5), y1=dy(291.5),
         line=dict(color='#dddddd', width=1), layer='below'),
    dict(type='line', xref='paper', yref='paper', x0=dx(598), x1=dx(598), y0=dy(276), y1=dy(35),
         line=dict(color='#f0f0f0', width=1), layer='below'),
    # boundary between upper and lower subplots
    dict(type='line', xref='paper', yref='paper', x0=xa[0], x1=xa[1], y0=dy(MID), y1=dy(MID),
         line=dict(color=INK, width=1.5)),
    dict(type='line', xref='paper', yref='paper', x0=xb[0], x1=xb[1], y0=dy(MID), y1=dy(MID),
         line=dict(color=INK, width=1.5)),
    # dashed frequency markers
    dict(type='line', xref='paper', yref='paper', x0=xa_m, x1=xa_m,
         y0=dy(237.3), y1=dy(33.3), line=dict(color=INK, width=1.8, dash='6px,4px')),
    dict(type='line', xref='paper', yref='paper', x0=xb_m, x1=xb_m,
         y0=dy(235.3), y1=dy(35.3), line=dict(color=INK, width=1.8, dash='6px,4px')),
]
fig.update_layout(shapes=shapes)

ann = [
    dict(text='<b>a)</b>\u00a0\u00a0MAPbI<sub>3</sub>', x=dx(87), y=dy(16), xanchor='left', yanchor='middle',
         font=dict(size=21.5, color='#111')),
    dict(text='<b>b)</b>\u00a0\u00a0FAPbI<sub>3</sub>', x=dx(562), y=dy(16), xanchor='left', yanchor='middle',
         font=dict(size=21.5, color='#111')),
    dict(text='\u03b5<sub>r</sub>', x=dx(36), y=dy(89), textangle=-90, font=dict(size=14)),
    dict(text='Phase (rad)', x=dx(38), y=dy(186), textangle=-90, font=dict(size=14)),
    dict(text='Frequency (Hz)', x=dx(289), y=dy(284), font=dict(size=14)),
    dict(text='Frequency (Hz)', x=dx(762), y=dy(283), font=dict(size=14)),
    dict(text='Temperature (K)', x=dx(526.5), y=dy(332), font=dict(size=14.5)),
    dict(text='20 kHz', x=dx(346), y=dy(172), textangle=90, font=dict(size=18)),
    dict(text='100 kHz', x=dx(876), y=dy(173), textangle=90, font=dict(size=18)),
]
for a in ann:
    a.setdefault('xref', 'paper')
    a.setdefault('yref', 'paper')
    a.setdefault('xanchor', 'center')
    a.setdefault('yanchor', 'middle')
    a['showarrow'] = False
fig.update_layout(annotations=ann)

fig.write_html('out.html', config={'displayModeBar': False})
